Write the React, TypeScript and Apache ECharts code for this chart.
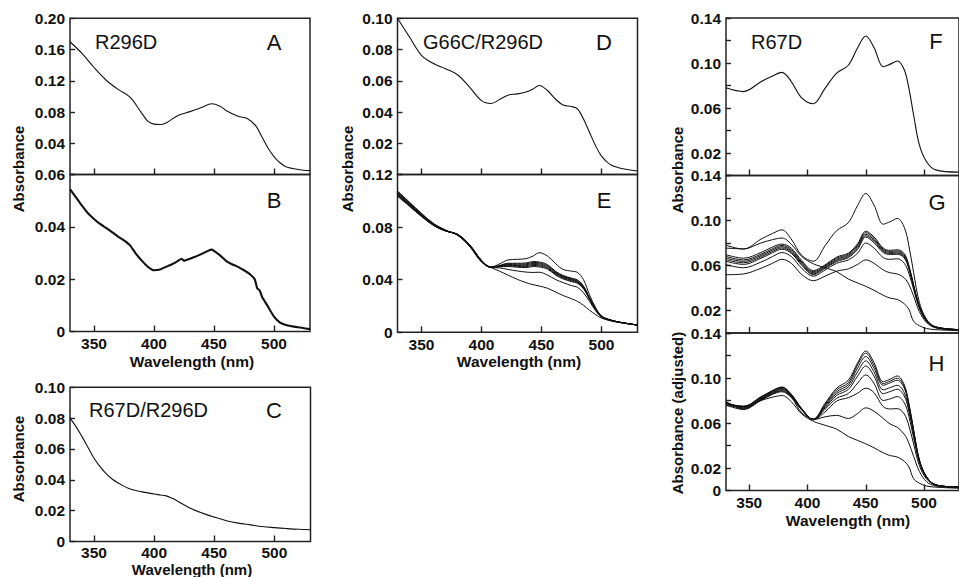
import React, { useEffect, useRef } from "react";
import * as echarts from "echarts";

// ---------- Data ----------
const WL_A = [330, 340, 350, 360, 370, 380, 390, 395, 400, 405, 410, 420, 430, 440, 448, 455, 460, 470, 478, 485, 490, 495, 500, 505, 510, 520, 530];
const A_R296D = [0.170, 0.155, 0.137, 0.121, 0.109, 0.099, 0.078, 0.068, 0.0645, 0.064, 0.066, 0.0755, 0.0805, 0.086, 0.0905, 0.0875, 0.082, 0.0745, 0.0715, 0.062, 0.048, 0.034, 0.023, 0.015, 0.010, 0.0065, 0.005];

const WL_B = [330, 335, 340, 345, 350, 355, 360, 365, 370, 375, 380, 385, 390, 395, 400, 405, 410, 415, 420, 423, 425, 430, 435, 440, 445, 448, 450, 455, 460, 465, 470, 475, 480, 484, 486, 488, 490, 495, 500, 505, 510, 520, 530];
const B_R296D = [0.0544, 0.0513, 0.0481, 0.0452, 0.043, 0.0411, 0.0396, 0.038, 0.0363, 0.0348, 0.0329, 0.0297, 0.027, 0.0247, 0.0234, 0.0237, 0.0247, 0.0257, 0.027, 0.0278, 0.027, 0.0278, 0.0287, 0.0297, 0.0308, 0.0313, 0.0308, 0.0291, 0.027, 0.0257, 0.0247, 0.0234, 0.0219, 0.0199, 0.0165, 0.0158, 0.0133, 0.0095, 0.0057, 0.0034, 0.0025, 0.0016, 0.0009];

const WL_C = [330, 335, 340, 345, 350, 355, 360, 365, 370, 380, 390, 400, 405, 410, 415, 420, 430, 440, 450, 460, 470, 480, 490, 500, 510, 520, 530];
const C_R67D_R296D = [0.080, 0.0745, 0.068, 0.061, 0.054, 0.0485, 0.044, 0.0405, 0.038, 0.034, 0.0322, 0.0308, 0.0302, 0.0296, 0.028, 0.026, 0.0216, 0.0184, 0.0158, 0.0135, 0.0119, 0.0108, 0.0097, 0.0090, 0.0084, 0.0079, 0.0076];

const WL_DE = [330, 340, 350, 360, 370, 380, 390, 400, 408, 415, 422, 430, 437, 443, 448, 455, 462, 468, 475, 480, 485, 490, 495, 500, 507, 515, 530];
const D_G66C = [0.100, 0.088, 0.0763, 0.071, 0.0677, 0.0639, 0.056, 0.0473, 0.0455, 0.048, 0.0508, 0.0516, 0.0528, 0.0548, 0.057, 0.0538, 0.048, 0.0445, 0.0435, 0.042, 0.0355, 0.027, 0.0185, 0.0118, 0.0065, 0.0042, 0.0022];

const E0 = [0.1035, 0.0958, 0.0880, 0.0812, 0.0770, 0.0746, 0.0668, 0.0548, 0.0497, 0.052, 0.055, 0.0555, 0.056, 0.058, 0.0605, 0.058, 0.052, 0.0478, 0.0465, 0.0455, 0.040, 0.0285, 0.019, 0.0125, 0.0095, 0.0077, 0.0055];
const E1 = [0.1040, 0.0962, 0.0883, 0.0814, 0.0771, 0.0745, 0.0666, 0.0546, 0.0496, 0.0508, 0.0525, 0.0525, 0.0527, 0.0538, 0.0535, 0.0515, 0.0462, 0.0432, 0.0412, 0.0398, 0.0352, 0.0262, 0.0180, 0.0122, 0.0095, 0.0077, 0.0055];
const E2 = [0.1045, 0.0965, 0.0885, 0.0815, 0.0772, 0.0744, 0.0665, 0.0545, 0.0495, 0.0506, 0.0520, 0.0519, 0.0520, 0.0531, 0.0528, 0.0508, 0.0457, 0.0428, 0.0407, 0.0393, 0.0348, 0.0260, 0.0179, 0.0122, 0.0095, 0.0077, 0.0055];
const E3 = [0.1050, 0.0968, 0.0887, 0.0816, 0.0772, 0.0743, 0.0664, 0.0544, 0.0495, 0.0504, 0.0515, 0.0513, 0.0513, 0.0524, 0.0521, 0.0501, 0.0452, 0.0423, 0.0402, 0.0388, 0.0344, 0.0258, 0.0178, 0.0121, 0.0094, 0.0077, 0.0055];
const E4 = [0.1055, 0.0972, 0.0890, 0.0818, 0.0773, 0.0742, 0.0662, 0.0542, 0.0494, 0.0502, 0.0510, 0.0507, 0.0506, 0.0516, 0.0513, 0.0494, 0.0446, 0.0418, 0.0397, 0.0383, 0.0340, 0.0256, 0.0177, 0.0121, 0.0094, 0.0077, 0.0055];
const E5 = [0.1060, 0.0976, 0.0893, 0.0820, 0.0774, 0.0741, 0.0660, 0.0540, 0.0494, 0.0500, 0.0505, 0.0501, 0.0499, 0.0508, 0.0505, 0.0487, 0.0440, 0.0412, 0.0391, 0.0378, 0.0336, 0.0254, 0.0176, 0.0120, 0.0094, 0.0076, 0.0055];
const E6 = [0.1065, 0.0980, 0.0896, 0.0822, 0.0775, 0.0740, 0.0658, 0.0538, 0.0493, 0.0498, 0.0500, 0.0495, 0.0492, 0.0500, 0.0497, 0.0480, 0.0434, 0.0406, 0.0385, 0.0372, 0.0331, 0.0251, 0.0175, 0.0120, 0.0093, 0.0076, 0.0055];
const E7 = [0.1070, 0.0985, 0.0900, 0.0825, 0.0776, 0.0739, 0.0656, 0.0536, 0.0493, 0.0490, 0.0478, 0.0466, 0.0458, 0.0455, 0.0457, 0.0435, 0.0400, 0.0378, 0.0355, 0.0342, 0.0300, 0.0235, 0.0165, 0.0115, 0.0092, 0.0076, 0.0055];
const E8 = [0.1075, 0.0990, 0.0905, 0.0828, 0.0778, 0.0738, 0.0654, 0.0534, 0.0492, 0.0465, 0.0435, 0.0402, 0.0378, 0.0362, 0.0352, 0.0335, 0.0305, 0.0280, 0.0255, 0.0235, 0.0205, 0.0168, 0.0135, 0.0108, 0.0088, 0.0074, 0.0055];

const WL_FGH = [330, 345, 360, 370, 378, 386, 395, 405, 415, 425, 435, 443, 450, 457, 465, 471, 477, 483, 487, 491, 496, 502, 510, 530];
const F_R67D = [0.078, 0.0746, 0.0834, 0.0885, 0.0917, 0.0835, 0.0690, 0.0638, 0.0775, 0.091, 0.098, 0.1135, 0.124, 0.1138, 0.0967, 0.099, 0.1018, 0.094, 0.0775, 0.054, 0.0272, 0.0125, 0.005, 0.003];

const G1 = [0.0696, 0.0665, 0.0715, 0.0765, 0.079, 0.0755, 0.0645, 0.0555, 0.0605, 0.0675, 0.071, 0.0795, 0.0905, 0.0855, 0.0755, 0.0735, 0.074, 0.0705, 0.060, 0.043, 0.024, 0.0115, 0.0055, 0.003];
const G2 = [0.0681, 0.065, 0.070, 0.075, 0.0778, 0.0742, 0.0632, 0.0545, 0.0598, 0.0665, 0.070, 0.0783, 0.0892, 0.0842, 0.0745, 0.0725, 0.073, 0.0695, 0.0592, 0.0425, 0.0237, 0.0114, 0.0054, 0.003];
const G3 = [0.0666, 0.0637, 0.0688, 0.0738, 0.0767, 0.0731, 0.0622, 0.0536, 0.059, 0.0655, 0.069, 0.0771, 0.0878, 0.0829, 0.0735, 0.0716, 0.072, 0.0685, 0.0585, 0.042, 0.0234, 0.0113, 0.0053, 0.003];
const G4 = [0.0651, 0.0624, 0.0676, 0.0726, 0.0756, 0.072, 0.0612, 0.0527, 0.0582, 0.0645, 0.068, 0.0758, 0.0865, 0.0816, 0.0725, 0.0707, 0.071, 0.0676, 0.0578, 0.0415, 0.0231, 0.0112, 0.0052, 0.003];
const G5 = [0.0637, 0.061, 0.0664, 0.0714, 0.0745, 0.0709, 0.0602, 0.0518, 0.0574, 0.0635, 0.067, 0.0745, 0.0853, 0.0803, 0.0715, 0.0698, 0.070, 0.0667, 0.057, 0.041, 0.0228, 0.0111, 0.0051, 0.003];
const G6 = [0.0607, 0.058, 0.063, 0.068, 0.0715, 0.068, 0.0575, 0.0505, 0.056, 0.062, 0.065, 0.071, 0.080, 0.0755, 0.067, 0.0655, 0.066, 0.062, 0.053, 0.039, 0.022, 0.0105, 0.005, 0.0027];
const G7 = [0.0518, 0.0525, 0.0575, 0.062, 0.0655, 0.062, 0.052, 0.0465, 0.0505, 0.055, 0.057, 0.061, 0.065, 0.062, 0.056, 0.0535, 0.0525, 0.049, 0.043, 0.033, 0.019, 0.0095, 0.0045, 0.0025];
const G8 = [0.0755, 0.0748, 0.080, 0.083, 0.0844, 0.079, 0.068, 0.0615, 0.058, 0.0545, 0.048, 0.0445, 0.0415, 0.038, 0.0335, 0.031, 0.0298, 0.026, 0.021, 0.0105, 0.0065, 0.004, 0.003, 0.002];

const H1 = [0.0770, 0.0750, 0.0830, 0.0890, 0.0920, 0.0857, 0.0728, 0.0630, 0.0765, 0.0895, 0.0958, 0.1118, 0.1221, 0.1115, 0.0950, 0.0973, 0.0998, 0.0925, 0.0765, 0.0535, 0.0270, 0.0124, 0.005, 0.003];
const H2 = [0.0775, 0.0745, 0.0825, 0.0885, 0.0915, 0.0853, 0.0726, 0.0630, 0.0755, 0.0878, 0.094, 0.109, 0.1191, 0.1088, 0.0935, 0.0958, 0.098, 0.091, 0.0755, 0.053, 0.0268, 0.0123, 0.005, 0.003];
const H3 = [0.0780, 0.0740, 0.0820, 0.0878, 0.0908, 0.0848, 0.0724, 0.0630, 0.0745, 0.0862, 0.092, 0.1056, 0.1152, 0.1055, 0.0895, 0.0915, 0.0935, 0.087, 0.0725, 0.0515, 0.0262, 0.012, 0.005, 0.003];
const H4 = [0.0785, 0.0735, 0.0815, 0.0872, 0.0900, 0.0843, 0.0722, 0.0630, 0.0735, 0.0845, 0.0898, 0.1018, 0.1107, 0.1018, 0.086, 0.088, 0.090, 0.084, 0.0705, 0.050, 0.0258, 0.0118, 0.005, 0.003];
const H5 = [0.0790, 0.0730, 0.0810, 0.0866, 0.0893, 0.0838, 0.0720, 0.0630, 0.0722, 0.082, 0.0862, 0.0955, 0.1027, 0.0953, 0.080, 0.0815, 0.0835, 0.078, 0.066, 0.047, 0.025, 0.0115, 0.005, 0.003];
const H6 = [0.0775, 0.0725, 0.0805, 0.0860, 0.0885, 0.0832, 0.0718, 0.0630, 0.0698, 0.0795, 0.0825, 0.0865, 0.091, 0.087, 0.0745, 0.0725, 0.0728, 0.068, 0.0575, 0.0415, 0.0222, 0.0105, 0.0048, 0.003];
const H7 = [0.0760, 0.0720, 0.0800, 0.0855, 0.0878, 0.0827, 0.0716, 0.0630, 0.0655, 0.0668, 0.064, 0.0685, 0.0735, 0.0705, 0.064, 0.059, 0.0562, 0.050, 0.042, 0.0305, 0.017, 0.008, 0.004, 0.0025];

const X_TICKS = [350, 400, 450, 500];

// ---------- Helpers ----------
const FONT = '"Liberation Sans", Arial, Helvetica, sans-serif';
const INK = "#111";

const pairs = (wl: number[], vals: number[]) => wl.map((w, i) => [w, vals[i]]);

function line(xi: number, wl: number[], vals: number[], width = 1.1, smooth: number | boolean = 0.35) {
  return {
    type: "line",
    xAxisIndex: xi,
    yAxisIndex: xi,
    data: pairs(wl, vals),
    symbol: "none",
    smooth,
    lineStyle: { color: INK, width },
    silent: true,
  };
}

function xAxis(gi: number, labels: boolean, margin = 4) {
  return {
    type: "value",
    gridIndex: gi,
    min: 330,
    max: 530,
    axisLine: { show: false },
    splitLine: { show: false },
    axisTick: {
      show: true,
      inside: true,
      length: 6,
      customValues: X_TICKS,
      lineStyle: { color: "#222", width: 1.4 },
    },
    axisLabel: {
      show: labels,
      customValues: X_TICKS,
      margin,
      color: INK,
      fontFamily: FONT,
      fontWeight: "bold",
      fontSize: 15.5,
    },
  };
}

function yAxis(gi: number, max: number, interval: number, show: (v: number) => boolean) {
  return {
    type: "value",
    gridIndex: gi,
    min: 0,
    max,
    interval,
    axisLine: { show: false },
    splitLine: { show: false },
    axisTick: { show: true, inside: true, length: 5, lineStyle: { color: "#222", width: 1.4 } },
    axisLabel: {
      margin: 5,
      color: INK,
      fontFamily: FONT,
      fontWeight: "bold",
      fontSize: 15.5,
      formatter: (v: number) => {
        if (!show(v)) return "";
        return Math.abs(v) < 1e-9 ? "0" : v.toFixed(2);
      },
    },
  };
}

const nonZero = (v: number) => Math.abs(v) > 1e-9;
const all = (_v: number) => true;
const odd02 = (v: number) => Math.round(v * 100) % 4 === 2;
const odd02orZero = (v: number) => odd02(v) || !nonZero(v);

function txt(x: number, y: number, text: string, size: number, opts: any = {}) {
  return {
    type: "text",
    x,
    y,
    rotation: opts.rotation || 0,
    silent: true,
    style: {
      text,
      fill: INK,
      font: `${opts.bold ? "bold " : ""}${size}px ${FONT}`,
      textAlign: opts.align || "center",
      textVerticalAlign: "middle",
    },
  };
}

export default function App() {
  const ref = useRef<HTMLDivElement>(null);

  useEffect(() => {
    if (!ref.current) return;
    const chart = echarts.init(ref.current, undefined, { renderer: "svg" });
    const border = { show: true, borderColor: "#222", borderWidth: 1.5, backgroundColor: "transparent" };
    const grids = [
      { left: 70, top: 18.3, width: 240, height: 156.2, ...border }, // A
      { left: 70, top: 174.5, width: 240, height: 157, ...border }, // B
      { left: 70, top: 387.3, width: 240.5, height: 154.2, ...border }, // C
      { left: 397.5, top: 18.3, width: 240, height: 156.2, ...border }, // D
      { left: 397.5, top: 174.5, width: 240, height: 157.8, ...border }, // E
      { left: 726, top: 18, width: 240, height: 157.5, ...border }, // F
      { left: 726, top: 175.5, width: 240, height: 157.5, ...border }, // G
      { left: 726, top: 333, width: 240, height: 157.5, ...border }, // H
    ];

    const xAxes = [
      xAxis(0, false),
      xAxis(1, true),
      xAxis(2, true, 2.5),
      xAxis(3, false),
      xAxis(4, true),
      xAxis(5, false),
      xAxis(6, false),
      xAxis(7, true),
    ];
    const yAxes = [
      yAxis(0, 0.2, 0.04, nonZero),
      yAxis(1, 0.06, 0.02, all),
      yAxis(2, 0.1, 0.02, all),
      yAxis(3, 0.1, 0.02, nonZero),
      yAxis(4, 0.12, 0.04, all),
      yAxis(5, 0.14, 0.02, odd02),
      yAxis(6, 0.14, 0.02, odd02),
      yAxis(7, 0.14, 0.02, odd02orZero),
    ];

    const series: any[] = [
      line(0, WL_A, A_R296D),
      line(1, WL_B, B_R296D, 2.1, 0.15),
      line(2, WL_C, C_R67D_R296D),
      line(3, WL_DE, D_G66C),
      ...[E0, E1, E2, E3, E4, E5, E6, E7, E8].map((e) => line(4, WL_DE, e, 1.0)),
      line(5, WL_FGH, F_R67D),
      ...[F_R67D, G1, G2, G3, G4, G5, G6, G7, G8].map((g) => line(6, WL_FGH, g, 1.0)),
      ...[F_R67D, H1, H2, H3, H4, H5, H6, H7, G8].map((h) => line(7, WL_FGH, h, 1.0)),
    ];

    const graphics = [
      txt(95, 42, "R296D", 20, { align: "left" }),
      txt(274, 42, "A", 22),
      txt(274, 200, "B", 22),
      txt(89, 410, "R67D/R296D", 20, { align: "left" }),
      txt(274, 410, "C", 22),
      txt(423, 42, "G66C/R296D", 20, { align: "left" }),
      txt(604, 42, "D", 22),
      txt(604, 200, "E", 22),
      txt(751, 41.5, "R67D", 20, { align: "left" }),
      txt(936, 41.5, "F", 22),
      txt(937, 202, "G", 22),
      txt(936.5, 363, "H", 22),
      txt(192, 361.5, "Wavelength (nm)", 15.5, { bold: true }),
      txt(519, 361.5, "Wavelength (nm)", 15.5, { bold: true }),
      txt(192, 569, "Wavelength (nm)", 15, { bold: true }),
      txt(848, 520, "Wavelength (nm)", 15.5, { bold: true }),
      txt(18.5, 169, "Absorbance", 15, { bold: true, rotation: Math.PI / 2 }),
      txt(18.5, 459, "Absorbance", 15, { bold: true, rotation: Math.PI / 2 }),
      txt(347.5, 169, "Absorbance", 15, { bold: true, rotation: Math.PI / 2 }),
      txt(677, 170, "Absorbance", 15, { bold: true, rotation: Math.PI / 2 }),
      txt(677, 413, "Absorbance (adjusted)", 15, { bold: true, rotation: Math.PI / 2 }),
    ];

    chart.setOption({
      animation: false,
      backgroundColor: "#fff",
      grid: grids,
      xAxis: xAxes,
      yAxis: yAxes,
      series,
      graphic: { elements: graphics },
    });
    return () => chart.dispose();
  }, []);

  return (
    <div
      ref={ref}
      style={{ position: "fixed", left: 0, top: 0, width: 959, height: 577, background: "#fff" }}
    />
  );
}
